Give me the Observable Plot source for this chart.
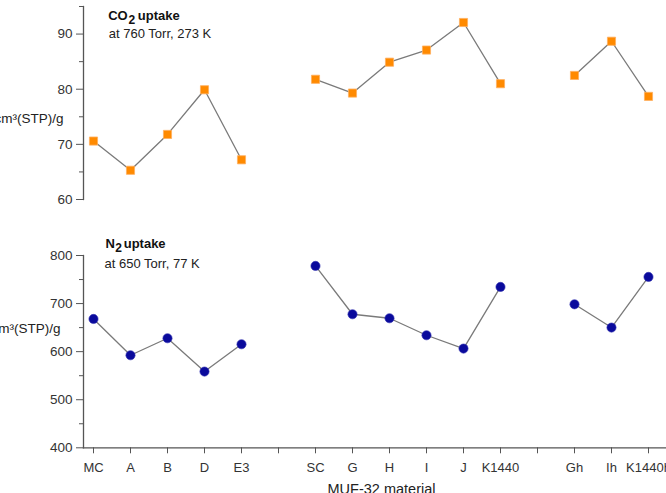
<!DOCTYPE html>
<html>
<head>
<meta charset="utf-8">
<script src="https://cdn.jsdelivr.net/npm/d3@7"></script>
<script src="https://cdn.jsdelivr.net/npm/@observablehq/plot@0.6"></script>
<style>
  html, body { margin: 0; padding: 0; background: #fff; overflow: hidden; }
  #chart svg { display: block; }
</style>
</head>
<body>
<div id="chart"></div>
<script>
// ---- data ----
const materials = ["MC","A","B","D","E3","SC","G","H","I","J","K1440","Gh","Ih","K1440h"];
const groups    = [1,1,1,1,1,2,2,2,2,2,2,3,3,3];
const co2Uptake = [70.6,65.3,71.8,79.9,67.2,81.8,79.3,84.9,87.1,92.1,81.0,82.5,88.7,78.7];
const n2Uptake  = [668,592.5,627.9,558.6,615.4,778.4,677.8,669.5,634.1,606.4,734.7,698.5,650.1,755.5];
const xCategories = ["MC","A","B","D","E3","gap1","SC","G","H","I","J","K1440","gap2","Gh","Ih","K1440h"];
const co2MajorTicks = [60,70,80,90];
const co2MinorTicks = [65,75,85,95];
const n2MajorTicks = [400,500,600,700,800];
const n2MinorTicks = [450,550,650,750];
const yLabel = "cm³(STP)/g";
const xLabel = "MUF-32 material";

const co2Data = materials.map((m, i) => ({material: m, group: groups[i], value: co2Uptake[i]}));
const n2Data  = materials.map((m, i) => ({material: m, group: groups[i], value: n2Uptake[i]}));

const font = "'Liberation Sans', Arial, sans-serif";
const axisColor = "#555";
const textColor = "#333";
const lineColor = "#7a7a7a";
const xScale = {type: "point", domain: xCategories, range: [92.7, 648.3], padding: 0, align: 0.5};
const xFmt = d => d.startsWith("gap") ? "" : d;
const txt = d => d;

const topPlot = Plot.plot({
  width: 666, height: 215,
  marginLeft: 83, marginRight: 0, marginTop: 6, marginBottom: 16,
  style: {fontFamily: font, fontSize: "13.5px", color: axisColor, background: "#fff"},
  x: {...xScale, axis: null},
  y: {domain: [60, 95], axis: null},
  marks: [
    Plot.frame({anchor: "left", stroke: axisColor, strokeWidth: 1.3}),
    Plot.axisY({ticks: co2MajorTicks, tickSize: 7, tickPadding: 4, fill: textColor, stroke: axisColor, fontSize: 13.5, label: null}),
    Plot.axisY({ticks: co2MinorTicks, tickSize: 4, tickFormat: () => "", stroke: axisColor, label: null}),
    Plot.line(co2Data, {x: "material", y: "value", z: "group", stroke: lineColor, strokeWidth: 1.3}),
    Plot.dot(co2Data, {x: "material", y: "value", symbol: "square", r: 4.6, fill: "#ff8a00", stroke: "#ffb060", strokeWidth: 0.8}),
    Plot.text([yLabel], {text: txt, frameAnchor: "left", dx: -20, dy: 15.5, textAnchor: "end", lineAnchor: "middle", fill: "#222", fontSize: 13.5}),
    Plot.text(["CO"], {text: txt, frameAnchor: "top-left", dx: 24.7, dy: 4, textAnchor: "start", lineAnchor: "top", fontWeight: "bold", fill: "#111", fontSize: 13}),
    Plot.text(["2"], {text: txt, frameAnchor: "top-left", dx: 44.9, dy: 9.2, textAnchor: "start", lineAnchor: "top", fontWeight: "bold", fill: "#111", fontSize: 12}),
    Plot.text(["uptake"], {text: txt, frameAnchor: "top-left", dx: 54.3, dy: 4, textAnchor: "start", lineAnchor: "top", fontWeight: "bold", fill: "#111", fontSize: 13}),
    Plot.text(["at 760 Torr, 273 K"], {text: txt, frameAnchor: "top-left", dx: 25.3, dy: 22, textAnchor: "start", lineAnchor: "top", fill: "#222", fontSize: 13})
  ]
});

const bottomPlot = Plot.plot({
  width: 666, height: 278,
  marginLeft: 83, marginRight: 0, marginTop: 40, marginBottom: 45.7,
  style: {fontFamily: font, fontSize: "13px", color: axisColor, background: "#fff"},
  x: {...xScale, axis: null},
  y: {domain: [400, 800], axis: null},
  marks: [
    Plot.frame({anchor: "left", stroke: axisColor, strokeWidth: 1.3}),
    Plot.frame({anchor: "bottom", stroke: axisColor, strokeWidth: 1.3}),
    Plot.axisY({ticks: n2MajorTicks, tickSize: 7, tickPadding: 4, fill: textColor, stroke: axisColor, fontSize: 13.5, label: null}),
    Plot.axisY({ticks: n2MinorTicks, tickSize: 4, tickFormat: () => "", stroke: axisColor, label: null}),
    Plot.axisX({tickSize: 6, tickPadding: 8.5, tickFormat: xFmt, fill: textColor, stroke: axisColor, fontSize: 13, label: null}),
    Plot.line(n2Data, {x: "material", y: "value", z: "group", stroke: lineColor, strokeWidth: 1.3}),
    Plot.dot(n2Data, {x: "material", y: "value", symbol: "circle", r: 4.6, fill: "#0a0a9c", stroke: "#3030b0", strokeWidth: 0.6}),
    Plot.text([yLabel], {text: txt, frameAnchor: "left", dx: -23, dy: -23, textAnchor: "end", lineAnchor: "middle", fill: "#222", fontSize: 13.5}),
    Plot.text(["N"], {text: txt, frameAnchor: "top-left", dx: 22, dy: -16.7, textAnchor: "start", lineAnchor: "top", fontWeight: "bold", fill: "#111", fontSize: 13}),
    Plot.text(["2"], {text: txt, frameAnchor: "top-left", dx: 31.8, dy: -12.4, textAnchor: "start", lineAnchor: "top", fontWeight: "bold", fill: "#111", fontSize: 12}),
    Plot.text(["uptake"], {text: txt, frameAnchor: "top-left", dx: 40.2, dy: -16.7, textAnchor: "start", lineAnchor: "top", fontWeight: "bold", fill: "#111", fontSize: 13}),
    Plot.text(["at 650 Torr, 77 K"], {text: txt, frameAnchor: "top-left", dx: 21, dy: 3, textAnchor: "start", lineAnchor: "top", fill: "#222", fontSize: 13}),
    Plot.text([xLabel], {text: txt, frameAnchor: "bottom", dx: 6.5, dy: 36, lineAnchor: "top", fill: "#222", fontSize: 14.5})
  ]
});

document.getElementById("chart").append(topPlot, bottomPlot);
</script>
</body>
</html>
